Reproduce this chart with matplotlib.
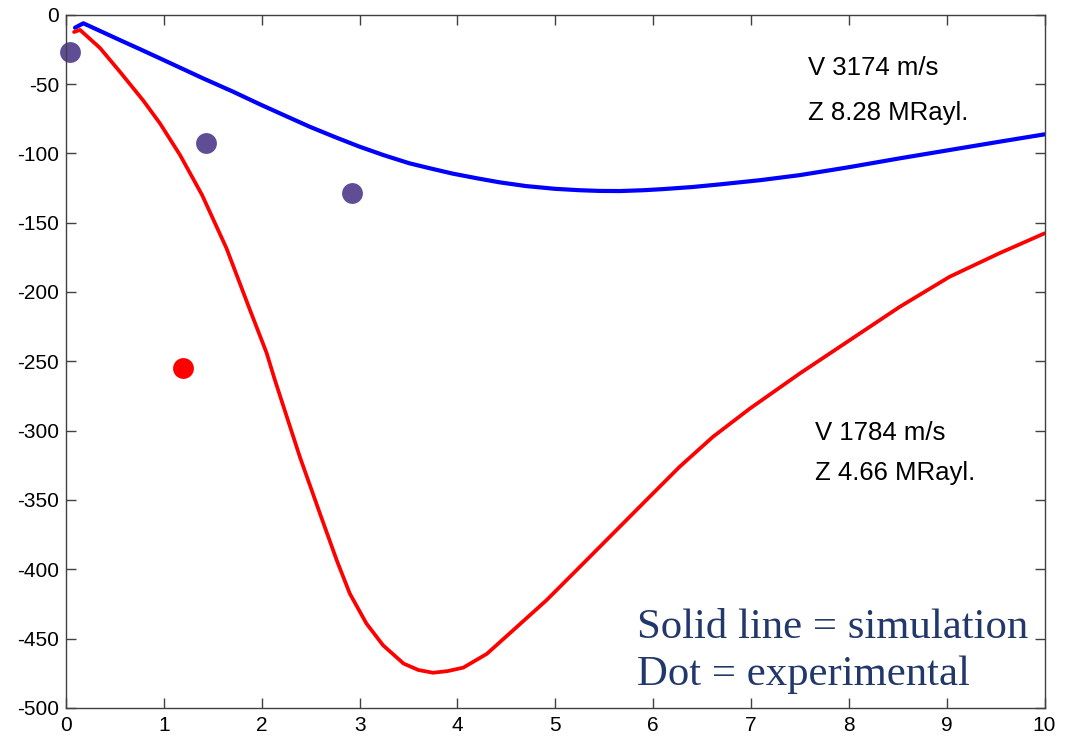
import matplotlib
matplotlib.use("Agg")
import matplotlib.pyplot as plt

# ---- data ----
blue_x = [0.092, 0.177, 0.35, 0.55, 0.76, 0.96, 1.18, 1.40, 1.70, 1.98, 2.25, 2.49, 2.75,
          3.00, 3.25, 3.51, 3.72, 3.95, 4.20, 4.43, 4.70, 5.00, 5.25, 5.45, 5.66, 5.90,
          6.10, 6.40, 6.68, 7.10, 7.50, 8.00, 8.52, 9.03, 9.54, 10.0]
blue_y = [-9.4, -6.2, -11.8, -18.3, -25.0, -31.5, -38.7, -45.9, -55.3, -64.6, -73.2, -80.8, -88.3,
          -95.2, -101.4, -107.2, -110.8, -114.6, -118.0, -120.9, -123.6, -125.6, -126.6, -127.1, -127.2, -126.6,
          -125.8, -124.3, -122.4, -119.3, -115.7, -110.0, -103.6, -97.6, -91.6, -86.3]

red_x = [0.082, 0.143, 0.347, 0.55, 0.79, 0.96, 1.165, 1.39, 1.64, 1.88, 2.05, 2.135,
         2.39, 2.595, 2.766, 2.90, 3.07, 3.24, 3.45, 3.60, 3.75, 3.90, 4.06, 4.30, 4.57,
         4.91, 5.25, 5.59, 5.93, 6.27, 6.61, 6.99, 7.50, 8.01, 8.52, 9.03, 9.54, 10.0]
red_y = [-12.5, -11.0, -24.0, -41.1, -62.0, -78.4, -101.2, -130.0, -168.5, -213.0, -244.0, -263.6,
         -319.0, -359.8, -393.4, -417.5, -439.1, -454.8, -468.0, -472.6, -474.6, -473.4, -470.9, -461.0, -443.9,
         -422.3, -398.3, -374.2, -350.1, -326.1, -304.5, -284.0, -258.7, -234.7, -210.7, -189.0, -172.0, -157.7]

blue_dot_x = [0.04, 1.43, 2.92]
blue_dot_y = [-26.7, -92.2, -128.8]
red_dot_x = [1.20]
red_dot_y = [-255.0]

x_ticks = [0, 1, 2, 3, 4, 5, 6, 7, 8, 9, 10]
y_ticks = [0, -50, -100, -150, -200, -250, -300, -350, -400, -450, -500]

label_v1 = "V 3174 m/s"
label_z1 = "Z 8.28 MRayl."
label_v2 = "V 1784 m/s"
label_z2 = "Z 4.66 MRayl."
legend_1 = "Solid line = simulation"
legend_2 = "Dot = experimental"

# ---- figure ----
fig = plt.figure(figsize=(10.65, 7.38), dpi=100)
ax = fig.add_axes([0.062, 0.0407, 0.9188, 0.9394])

ax.plot(blue_x, blue_y, color="#0000ff", lw=3.0, solid_joinstyle="round", solid_capstyle="round")
ax.plot(red_x, red_y, color="#ff0000", lw=2.7, solid_joinstyle="round", solid_capstyle="round")
ax.plot(blue_dot_x, blue_dot_y, "o", color="#5f4d96", ms=15, mec="none", clip_on=False)
ax.plot(red_dot_x, red_dot_y, "o", color="#ff0000", ms=15, mec="none")

ax.set_xlim(0, 10)
ax.set_ylim(-500, 0)
ax.set_xticks(x_ticks)
ax.set_yticks(y_ticks)
ax.set_xticklabels([str(v) for v in x_ticks])
ax.set_yticklabels([str(v) for v in y_ticks])

for s in ax.spines.values():
    s.set_color("#404040")
    s.set_linewidth(1.0)
ax.tick_params(direction="in", length=7, width=1.0, color="#404040",
               top=True, right=True, labelsize=15, labelcolor="black")
ax.tick_params(axis="y", pad=5)
ax.tick_params(axis="x", pad=6)
for lab in ax.get_xticklabels() + ax.get_yticklabels():
    lab.set_family("Liberation Sans")

ann = dict(family="Liberation Sans", fontsize=18.5, color="black", va="center", ha="left")
ax.text(7.58, -38.5, label_v1, **ann)
ax.text(7.58, -71.0, label_z1, **ann)
ax.text(7.65, -301.8, label_v2, **ann)
ax.text(7.65, -330.7, label_z2, **ann)

leg = dict(family="Liberation Serif", fontsize=30.8, color="#22386a", va="baseline", ha="left")
ax.text(5.84, -449.7, legend_1, **leg)
ax.text(5.84, -483.6, legend_2, **leg)

fig.savefig("out.png", dpi=100)
